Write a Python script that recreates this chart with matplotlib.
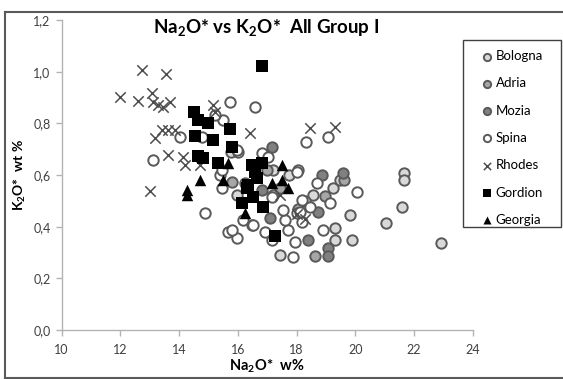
import matplotlib
matplotlib.use('Agg')
import matplotlib.pyplot as plt
from matplotlib.lines import Line2D
from matplotlib.patches import Rectangle

plt.rcParams['font.family'] = ['Lato', 'DejaVu Sans']
plt.rcParams['mathtext.fontset'] = 'custom'
plt.rcParams['mathtext.rm'] = 'Lato'
plt.rcParams['mathtext.bf'] = 'Lato:bold'

# Na2O* (x) and K2O* (y), wt %, per site
bologna_x = [21.66, 21.66, 21.58, 21.05, 22.91, 19.82, 19.88, 19.31, 19.31, 19.25,
             19.48, 18.57, 17.44, 17.75, 15.96, 15.78, 17.2, 18.3]
bologna_y = [0.609, 0.581, 0.477, 0.413, 0.338, 0.445, 0.348, 0.348, 0.394, 0.549,
             0.581, 0.523, 0.290, 0.600, 0.523, 0.690, 0.619, 0.50]

adria_x = [15.79, 17.43, 18.97, 19.62, 18.62, 18.05, 17.0]
adria_y = [0.574, 0.550, 0.520, 0.582, 0.288, 0.470, 0.620]

mozia_x = [18.86, 19.59, 18.74, 19.08, 19.08, 18.40, 17.09, 17.15, 16.81]
mozia_y = [0.600, 0.607, 0.458, 0.316, 0.285, 0.348, 0.432, 0.710, 0.542]

spina_x = [15.73, 16.58, 15.50, 15.22, 14.03, 13.12, 18.32, 19.06, 14.88, 15.67,
           15.96, 15.45, 16.19, 16.47, 16.92, 17.15, 17.72, 17.89, 17.95, 17.61,
           17.21, 18.06, 20.05, 18.17, 19.14, 18.91, 18.17, 18.00, 18.69, 16.01,
           16.81, 18.00, 16.24, 17.15, 17.55, 16.53, 15.79, 18.12, 18.45, 15.40,
           15.96, 15.45, 17.04, 14.77]
spina_y = [0.884, 0.864, 0.813, 0.832, 0.748, 0.658, 0.727, 0.748, 0.452, 0.381,
           0.355, 0.549, 0.426, 0.406, 0.381, 0.348, 0.387, 0.284, 0.342, 0.426,
           0.523, 0.619, 0.535, 0.503, 0.491, 0.387, 0.419, 0.452, 0.568, 0.690,
           0.684, 0.613, 0.568, 0.516, 0.465, 0.406, 0.387, 0.458, 0.477, 0.600,
           0.697, 0.619, 0.671, 0.748]

rhodes_x = [12.72, 13.55, 11.99, 12.59, 13.07, 13.11, 13.28, 13.45, 13.69, 13.41,
            13.63, 13.86, 13.18, 15.16, 15.22, 16.41, 18.46, 19.31, 13.63, 14.14,
            14.20, 13.01, 14.71, 17.43, 18.30, 18.00]
rhodes_y = [1.007, 0.990, 0.903, 0.888, 0.916, 0.884, 0.871, 0.864, 0.884, 0.774,
            0.774, 0.774, 0.743, 0.871, 0.845, 0.762, 0.781, 0.787, 0.677, 0.671,
            0.639, 0.539, 0.639, 0.523, 0.430, 0.450]

gordion_x = [16.81, 14.52, 14.65, 14.99, 14.54, 15.16, 15.73, 15.79, 14.65, 14.82,
             15.33, 16.47, 16.81, 16.64, 16.36, 16.30, 16.13, 16.87, 16.53, 17.26,
             16.58]
gordion_y = [1.023, 0.845, 0.813, 0.800, 0.751, 0.736, 0.777, 0.710, 0.674, 0.665,
             0.648, 0.639, 0.645, 0.587, 0.561, 0.549, 0.491, 0.477, 0.516, 0.364,
             0.613]

georgia_x = [14.28, 14.28, 14.71, 15.50, 15.65, 16.24, 17.15, 17.49, 17.49, 17.72]
georgia_y = [0.542, 0.523, 0.581, 0.581, 0.648, 0.452, 0.568, 0.639, 0.581, 0.549]

x_ticks = [10, 12, 14, 16, 18, 20, 22, 24]
y_ticks = [0.0, 0.2, 0.4, 0.6, 0.8, 1.0, 1.2]

edge = '#595959'
series = [
    ('Bologna', bologna_x, bologna_y, dict(marker='o', s=56, facecolor='#d9d9d9', edgecolor=edge, linewidths=1.4)),
    ('Adria', adria_x, adria_y, dict(marker='o', s=56, facecolor='#a6a6a6', edgecolor=edge, linewidths=1.4)),
    ('Mozia', mozia_x, mozia_y, dict(marker='o', s=56, facecolor='#808080', edgecolor=edge, linewidths=1.4)),
    ('Spina', spina_x, spina_y, dict(marker='o', s=56, facecolor='white', edgecolor=edge, linewidths=1.4)),
    ('Rhodes', rhodes_x, rhodes_y, dict(marker='x', s=56, color='#4d4d4d', linewidths=1.1)),
    ('Gordion', gordion_x, gordion_y, dict(marker='s', s=72, color='black', linewidths=0)),
    ('Georgia', georgia_x, georgia_y, dict(marker='^', s=68, color='black', linewidths=0)),
]

fig = plt.figure(figsize=(5.63, 3.79), dpi=100)
ax = fig.add_axes([0.1096, 0.1293, 0.7300, 0.8179])

handles = []
for name, xs, ys, style in series:
    h = ax.scatter(xs, ys, label=name, **style)
    handles.append(h)

ax.set_xlim(10, 24)
ax.set_ylim(0, 1.2)
ax.set_xticks(x_ticks)
ax.set_yticks(y_ticks)
ax.set_yticklabels([f'{v:.1f}'.replace('.', ',') for v in y_ticks])
for s in ['top', 'right']:
    ax.spines[s].set_visible(False)
for s in ['left', 'bottom']:
    ax.spines[s].set_color('#b3b3b3')
    ax.spines[s].set_linewidth(1.0)
ax.tick_params(direction='out', length=4, width=1, color='#b3b3b3',
               labelsize=9, labelcolor='#404040')
ax.tick_params(axis='x', pad=6)
ax.tick_params(axis='y', pad=4)

fig.text(266 / 563, 1 - 28 / 379, r'Na$_\mathbf{2}$O* vs K$_\mathbf{2}$O*  All Group I',
         fontsize=13.5, fontweight='bold', ha='center', va='center')
ax.set_xlabel(r'Na$_\mathbf{2}$O*  w%', fontsize=10.5, fontweight='bold', labelpad=1)
ax.set_ylabel(r'K$_\mathbf{2}$O*  wt %', fontsize=10, fontweight='bold', labelpad=4)

# legend box drawn separately so its size can be set directly
fig.legend(handles=handles, loc='upper left', bbox_to_anchor=(0.856, 0.868),
           frameon=False, borderpad=0, borderaxespad=0, handlelength=0.8,
           handletextpad=0.25, labelspacing=1.16, fontsize=9.5, markerscale=0.7)
fig.add_artist(Rectangle((463 / 563, 1 - 227 / 379), 98 / 563, 187 / 379,
                         transform=fig.transFigure, fill=False,
                         edgecolor='#404040', linewidth=1.0))

# outer chart frame
frame = dict(transform=fig.transFigure, color='#5a5a5a', linewidth=1.5)
fig.add_artist(Line2D([5 / 563, 1], [1 - 12 / 379, 1 - 12 / 379], **frame))
fig.add_artist(Line2D([5 / 563, 5 / 563], [1 - 12 / 379, 1 / 379], **frame))
fig.add_artist(Line2D([5 / 563, 1], [1 / 379, 1 / 379], **frame))

fig.savefig('out.png', dpi=100)
